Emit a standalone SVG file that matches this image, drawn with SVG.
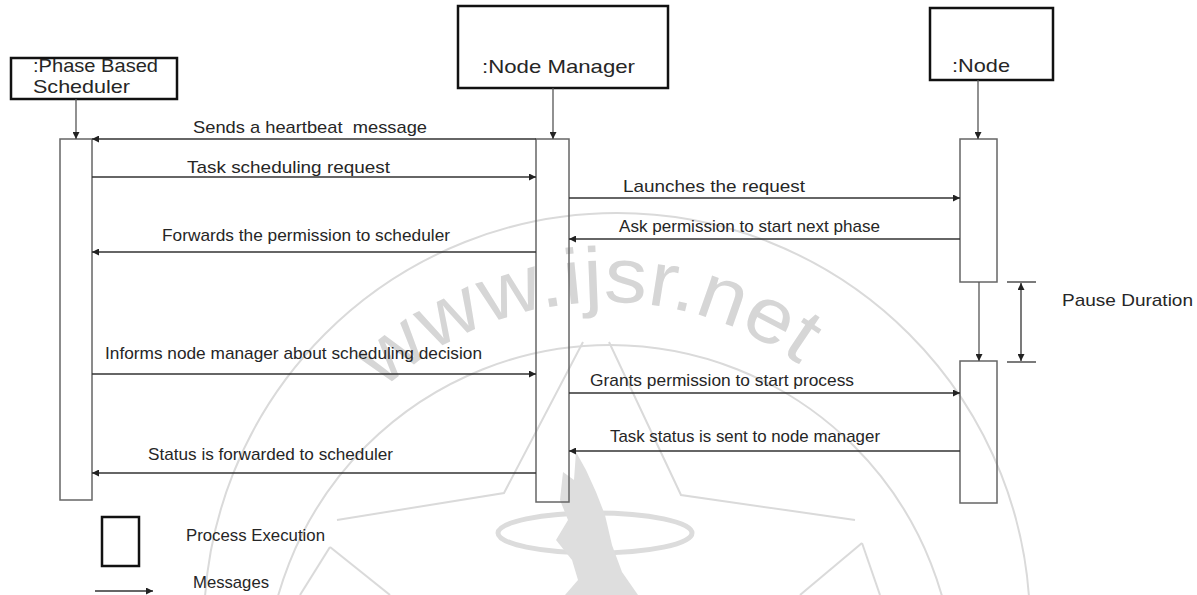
<svg xmlns="http://www.w3.org/2000/svg" width="1197" height="595" viewBox="0 0 1197 595">
<style>
.lbl{font-family:"Liberation Sans",Arial,sans-serif;font-size:17px;fill:#262626;}
.hdr{font-family:"Liberation Sans",Arial,sans-serif;font-size:19px;fill:#262626;}
.box{fill:#fff;stroke:#111;stroke-width:2.5;}
.bar{fill:none;stroke:#666;stroke-width:1.5;}
.msg{fill:none;stroke:#333;stroke-width:1.3;marker-end:url(#ah);}
.life{fill:none;stroke:#555;stroke-width:1.3;marker-end:url(#ah);}
.wm{fill:none;stroke:#dadada;stroke-width:2;}
</style>
<defs>
<marker id="ah" viewBox="0 0 10 10" refX="10" refY="5" markerWidth="8" markerHeight="7" markerUnits="userSpaceOnUse" orient="auto-start-reverse">
<path d="M0,0 L10,5 L0,10 z" fill="#222"/>
</marker>
<path id="wmarc" d="M383,390 A328,328 0 0,1 800,365"/>
</defs>
<rect width="1197" height="595" fill="#fff"/>

<g id="watermark">
<circle class="wm" cx="617" cy="626" r="413"/>
<circle class="wm" cx="610" cy="690" r="345"/>
<polyline class="wm" points="583,342 504,493 337,520"/>
<polyline class="wm" points="609,342 681,495 855,520"/>
<polyline class="wm" points="330,547 300,595"/>
<polyline class="wm" points="330,547 390,595"/>
<polyline class="wm" points="862,543 800,595"/>
<polyline class="wm" points="862,543 880,595"/>
<ellipse cx="595" cy="533" rx="97" ry="20" fill="none" stroke="#dcdcdc" stroke-width="5"/>
<polygon points="576,452 574,480 563,472 560,500 568,520 556,540 572,560 578,580 565,595 638,595 622,572 612,545 605,515 596,492 586,470" fill="#dedede"/>
<text font-family="Liberation Sans,Arial,sans-serif" font-size="78" fill="#d6d6d6"><textPath href="#wmarc" textLength="452" lengthAdjust="spacingAndGlyphs">www.ijsr.net</textPath></text>
</g>

<g id="scheduler">
<rect class="box" x="11" y="58" width="166" height="41"/>
<text class="hdr" x="33" y="72" textLength="125" lengthAdjust="spacingAndGlyphs">:Phase Based</text>
<text class="hdr" x="33" y="93" textLength="97" lengthAdjust="spacingAndGlyphs">Scheduler</text>
<rect class="bar" x="60" y="139" width="32" height="361"/>
</g>

<g id="nodemanager">
<rect class="box" x="458" y="6" width="210" height="82"/>
<text class="hdr" x="482" y="73" textLength="153" lengthAdjust="spacingAndGlyphs">:Node Manager</text>
<rect class="bar" x="536" y="139" width="33" height="363"/>
</g>

<g id="node">
<rect class="box" x="930" y="8" width="123" height="72"/>
<text class="hdr" x="952" y="72" textLength="58" lengthAdjust="spacingAndGlyphs">:Node</text>
<rect class="bar" x="960" y="139" width="37" height="143"/>
<rect class="bar" x="960" y="361" width="37" height="142"/>
</g>

<g id="pause">
<line x1="1007" y1="282" x2="1036" y2="282" stroke="#333" stroke-width="1.3"/>
<line x1="1007" y1="362" x2="1036" y2="362" stroke="#333" stroke-width="1.3"/>
<line x1="1021" y1="283" x2="1021" y2="361" stroke="#333" stroke-width="1.3" marker-start="url(#ah)" marker-end="url(#ah)"/>
<text class="lbl" x="1062" y="306" textLength="131" lengthAdjust="spacingAndGlyphs">Pause Duration</text>
</g>

<g id="legend">
<rect x="102" y="517" width="37" height="49" fill="none" stroke="#111" stroke-width="2.5"/>
<text class="lbl" x="186" y="541" textLength="139" lengthAdjust="spacingAndGlyphs">Process Execution</text>
<line class="msg" x1="95" y1="591" x2="153" y2="591"/>
<text class="lbl" x="193" y="588" textLength="76" lengthAdjust="spacingAndGlyphs">Messages</text>
</g>

<g id="connectors">
<line class="life" x1="76" y1="99" x2="76" y2="139"/>
<line class="life" x1="553" y1="88" x2="553" y2="139"/>
<line class="life" x1="978" y1="80" x2="978" y2="139"/>
<line class="life" x1="979" y1="282" x2="979" y2="361"/>
<line class="msg" x1="536" y1="139" x2="92" y2="139"/>
<line class="msg" x1="92" y1="177" x2="536" y2="177"/>
<line class="msg" x1="569" y1="198" x2="960" y2="198"/>
<line class="msg" x1="960" y1="239" x2="569" y2="239"/>
<line class="msg" x1="536" y1="252" x2="92" y2="252"/>
<line class="msg" x1="92" y1="374" x2="536" y2="374"/>
<line class="msg" x1="569" y1="393" x2="960" y2="393"/>
<line class="msg" x1="960" y1="451" x2="569" y2="451"/>
<line class="msg" x1="536" y1="473" x2="92" y2="473"/>
</g>

<g id="labels">
<text class="lbl" x="193" y="133" textLength="234" lengthAdjust="spacingAndGlyphs" xml:space="preserve">Sends a heartbeat  message</text>
<text class="lbl" x="187" y="173" textLength="203" lengthAdjust="spacingAndGlyphs">Task scheduling request</text>
<text class="lbl" x="623" y="192" textLength="182" lengthAdjust="spacingAndGlyphs">Launches the request</text>
<text class="lbl" x="619" y="232" textLength="261" lengthAdjust="spacingAndGlyphs">Ask permission to start next phase</text>
<text class="lbl" x="162" y="241" textLength="288" lengthAdjust="spacingAndGlyphs">Forwards the permission to scheduler</text>
<text class="lbl" x="105" y="359" textLength="377" lengthAdjust="spacingAndGlyphs">Informs node manager about scheduling decision</text>
<text class="lbl" x="590" y="386" textLength="264" lengthAdjust="spacingAndGlyphs">Grants permission to start process</text>
<text class="lbl" x="610" y="442" textLength="270" lengthAdjust="spacingAndGlyphs">Task status is sent to node manager</text>
<text class="lbl" x="148" y="460" textLength="245" lengthAdjust="spacingAndGlyphs">Status is forwarded to scheduler</text>
</g>
</svg>
